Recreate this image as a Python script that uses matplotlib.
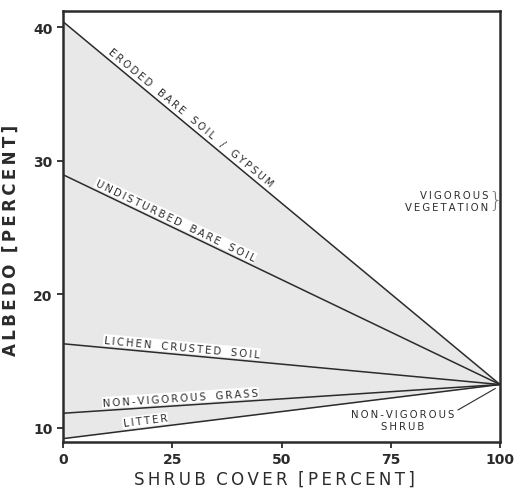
import numpy as np
import matplotlib.pyplot as plt
from matplotlib import transforms

# albedo of each surface type at 0% shrub cover, all converge at 100% (non-vigorous shrub)
surfaces = ['ERODED BARE SOIL / GYPSUM', 'UNDISTURBED BARE SOIL',
            'LICHEN CRUSTED SOIL', 'NON-VIGOROUS GRASS', 'LITTER']
albedo_bare = [40.4, 28.95, 16.3, 11.1, 9.2]
albedo_shrub = 13.25
shrub_cover = [0, 100]
label_x = [28, 25, 27, 27, 19]

xticks = [0, 25, 50, 75, 100]
yticks = [10, 20, 30, 40]

ink = '#2b2b2b'
plt.rcParams['font.family'] = ['DejaVu Sans']


def spaced(s, gap='\u2009', wgap='   '):
    return wgap.join(gap.join(w) for w in s.split(' '))


fig = plt.figure(figsize=(5.14, 4.89), dpi=100)
ax = fig.add_axes([0.1226, 0.0941, 0.8502, 0.8814])
ax.set_xlim(0, 100)
ax.set_ylim(8.95, 41.2)

top = [albedo_bare[0], albedo_shrub]
bot = [albedo_bare[-1], albedo_shrub]
ax.fill_between(shrub_cover, top, bot, color='#e8e8e8', lw=0, zorder=1)

for name, a0, lx in zip(surfaces, albedo_bare, label_x):
    ax.plot(shrub_cover, [a0, albedo_shrub], color=ink, lw=1.1, zorder=2)
    slope = (albedo_shrub - a0) / 100.0
    ly = a0 + slope * lx
    # angle on screen
    p0 = ax.transData.transform((0, a0))
    p1 = ax.transData.transform((100, albedo_shrub))
    ang = np.degrees(np.arctan2(p1[1] - p0[1], p1[0] - p0[0]))
    off = transforms.offset_copy(ax.transData, fig=fig,
                                 x=-2.0 * np.sin(np.radians(ang)),
                                 y=2.0 * np.cos(np.radians(ang)), units='points')
    ax.text(lx, ly, spaced(name), transform=off, rotation=ang,
            rotation_mode='anchor', ha='center', va='bottom',
            fontsize=7.3, color=ink, zorder=3,
            bbox=dict(facecolor='white', edgecolor='none', pad=0.6))

ax.text(77.8, 10.6, spaced('NON-VIGOROUS') + '\n' + spaced('SHRUB'),
        ha='center', va='center', fontsize=7.3, color=ink, linespacing=1.3)
ax.plot([90.4, 98.9], [11.35, 12.95], color=ink, lw=0.8)

ax.text(97.3, 27.0, spaced('VIGOROUS') + '\n' + spaced('VEGETATION'),
        ha='right', va='center', fontsize=7.3, color=ink, linespacing=1.3,
        multialignment='right')
ax.text(99.0, 27.1, '}', ha='center', va='center', fontsize=16,
        color='#777777', fontweight='light')

ax.set_xticks(xticks)
ax.set_yticks(yticks)
ax.tick_params(direction='out', length=4, width=1.3, colors=ink,
               labelsize=10)
for lab in ax.get_xticklabels() + ax.get_yticklabels():
    lab.set_fontweight('bold')
for sp in ax.spines.values():
    sp.set_linewidth(1.8)
    sp.set_color(ink)

ax.set_xlabel(spaced('SHRUB COVER [PERCENT]', wgap='  '), fontsize=12,
              color=ink, labelpad=2)
ax.set_ylabel(spaced('ALBEDO [PERCENT]', wgap='  '), fontsize=12,
              color=ink, fontweight='bold', labelpad=4)
ax.xaxis.set_label_coords(0.483, -0.065)
ax.yaxis.set_label_coords(-0.1, 0.47)

fig.savefig('out.png', dpi=100)
